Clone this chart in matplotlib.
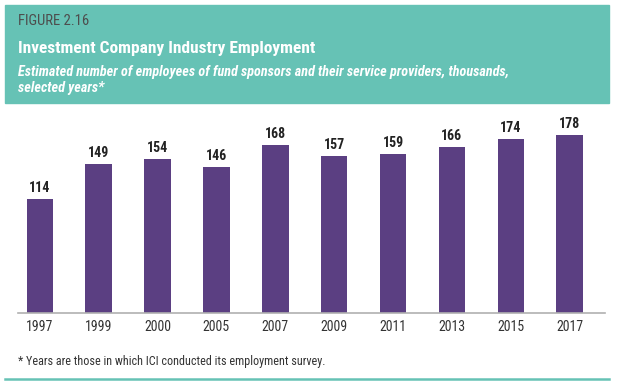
import matplotlib
matplotlib.use("Agg")
from matplotlib import pyplot as plt
from matplotlib.patches import Rectangle

# Data
years = ["1997", "1999", "2000", "2005", "2007", "2009", "2011", "2013", "2015", "2017"]
employees = [114, 149, 154, 146, 168, 157, 159, 166, 174, 178]

teal = "#66c2b5"
purple = "#5b3f82"

plt.rcParams["font.family"] = ["Roboto Condensed", "DejaVu Sans"]

fig = plt.figure(figsize=(6.17, 3.86), dpi=100)

# Header box
fig.patches.append(Rectangle((5 / 617, 1 - 103 / 386), 604 / 617, 98 / 386,
                             transform=fig.transFigure, color=teal, zorder=0))
fig.text(18 / 617, 1 - 21 / 386, "FIGURE 2.16", fontsize=10.5, color="#4d4d4d", va="center")
fig.text(18 / 617, 1 - 48 / 386, "Investment Company Industry Employment", fontsize=12.5,
         color="white", fontweight="bold", va="center")
fig.text(18 / 617, 1 - 72 / 386,
         "Estimated number of employees of fund sponsors and their service providers, thousands,",
         fontsize=10.2, color="white", style="italic", fontweight="bold", va="center")
fig.text(18 / 617, 1 - 88 / 386, "selected years*", fontsize=10.2, color="white",
         style="italic", fontweight="bold", va="center")

# Bar chart
ax = fig.add_axes([18 / 617, 1 - 313 / 386, 587 / 617, 200 / 386])
x = range(len(years))
ax.bar(x, employees, width=0.45, color=purple, zorder=2)
for xi, v in zip(x, employees):
    ax.text(xi, v + 4, str(v), ha="center", va="bottom", fontsize=10,
            fontweight="bold", color="#222222")

ax.set_ylim(0, 200)
ax.set_xlim(-0.37, 9.6)
ax.set_xticks(list(x))
ax.set_xticklabels(years, fontsize=10, color="#333333")
ax.tick_params(axis="x", length=0, pad=5)
ax.set_yticks([])
for side in ["top", "right", "left"]:
    ax.spines[side].set_visible(False)
ax.spines["bottom"].set_color("#b0b0b0")
ax.spines["bottom"].set_linewidth(1.2)

# Footnote and bottom rule
fig.text(18 / 617, 1 - 361 / 386, "* Years are those in which ICI conducted its employment survey.",
         fontsize=8.7, color="#333333", va="center")
fig.add_artist(plt.Line2D([5 / 617, 609 / 617], [1 - 379 / 386, 1 - 379 / 386],
                          transform=fig.transFigure, color=teal, linewidth=1.8))

plt.savefig("out.png", dpi=100)
